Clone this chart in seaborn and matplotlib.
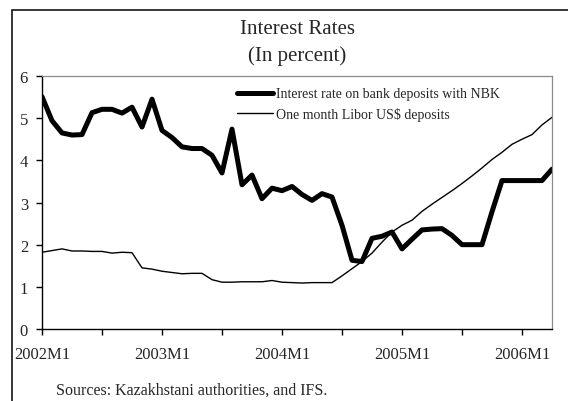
import numpy as np
import pandas as pd
import matplotlib
matplotlib.use("Agg")
import matplotlib.pyplot as plt
from matplotlib.patches import Rectangle
from matplotlib.lines import Line2D
import seaborn as sns

# Monthly observations, 2002M1 .. 2006M4
months = [f"{y}M{m}" for y in range(2002, 2007) for m in range(1, 13)][:52]

nbk_rate = [5.51, 4.94, 4.65, 4.60, 4.61, 5.13, 5.21, 5.21, 5.12, 5.26,
            4.79, 5.45, 4.71, 4.54, 4.32, 4.28, 4.28, 4.12, 3.70, 4.74,
            3.42, 3.65, 3.09, 3.34, 3.28, 3.38, 3.19, 3.05, 3.21, 3.13,
            2.46, 1.63, 1.60, 2.15, 2.20, 2.30, 1.90, 2.13, 2.35, 2.37,
            2.38, 2.22, 2.00, 2.00, 2.00, 2.78, 3.52, 3.52, 3.52, 3.52,
            3.52, 3.79]

libor_rate = [1.82, 1.86, 1.90, 1.85, 1.85, 1.84, 1.84, 1.80, 1.82, 1.81,
              1.45, 1.42, 1.37, 1.34, 1.31, 1.32, 1.32, 1.17, 1.11, 1.11,
              1.12, 1.12, 1.12, 1.15, 1.11, 1.10, 1.09, 1.10, 1.10, 1.10,
              1.26, 1.43, 1.60, 1.80, 2.06, 2.30, 2.46, 2.58, 2.79, 2.96,
              3.12, 3.28, 3.45, 3.63, 3.82, 4.02, 4.19, 4.38, 4.50, 4.61,
              4.84, 5.02]

series_names = ["Interest rate on bank deposits with NBK",
                "One month Libor US$ deposits"]
tick_labels = ["2002M1", "2003M1", "2004M1", "2005M1", "2006M1"]

t = np.arange(len(months))
df = pd.DataFrame({
    "t": np.concatenate([t, t]),
    "rate": nbk_rate + libor_rate,
    "series": [series_names[0]] * len(t) + [series_names[1]] * len(t),
})

sns.set_theme(style="white")
plt.rcParams["font.family"] = ["Liberation Serif", "DejaVu Serif"]

fig = plt.figure(figsize=(5.68, 4.02), dpi=100)
ax = fig.add_axes([42 / 568, 1 - 330 / 402, 510 / 568, 253 / 402])

sns.lineplot(data=df, x="t", y="rate", hue="series", size="series",
             palette=["black", "black"], sizes=[3.6, 1.0],
             sort=False, ax=ax, legend=False)

ax.set_xlim(0, len(t) - 1)
ax.set_ylim(0, 6)
ax.set_xlabel("")
ax.set_ylabel("")

ax.set_yticks(range(0, 7))
ax.set_xticks([0, 12, 24, 36, 48])
ax.set_xticklabels(tick_labels)
ax.set_xticks([6, 18, 30, 42], minor=True)
ax.tick_params(axis="y", which="both", direction="out", length=4, width=1,
               color="black", pad=6, labelsize=12, left=True)
ax.tick_params(axis="x", which="both", direction="out", length=4, width=1,
               color="black", pad=8, labelsize=12, bottom=True)

for side in ("left", "bottom"):
    ax.spines[side].set_color("black")
    ax.spines[side].set_linewidth(1.0)
for side in ("top", "right"):
    ax.spines[side].set_color("#8c8c8c")
    ax.spines[side].set_linewidth(0.9)

handles = [Line2D([], [], color="black", lw=3.6, solid_capstyle="round"),
           Line2D([], [], color="black", lw=1.0)]
ax.legend(handles, series_names, loc="center left",
          bbox_to_anchor=(0.382, 0.889), frameon=False, fontsize=10,
          handlelength=2.6, handletextpad=0.2, labelspacing=0.45,
          borderpad=0, borderaxespad=0)

fig.text(297 / 568, 1 - 29 / 402, "Interest Rates", ha="center",
         va="center", fontsize=15)
fig.text(297 / 568, 1 - 56 / 402, "(In percent)", ha="center",
         va="center", fontsize=15)
fig.text(56 / 568, 1 - 391 / 402, "Sources: Kazakhstani authorities, and IFS.",
         ha="left", va="center", fontsize=11.5)

# Outer frame around the exhibit
fig.patches.append(Rectangle((12 / 568, -0.5), 1.5, 0.5 + (1 - 11 / 402),
                             transform=fig.transFigure, fill=False,
                             edgecolor="black", linewidth=1.1,
                             clip_on=False))

fig.savefig("out.png", dpi=100, facecolor="white")
